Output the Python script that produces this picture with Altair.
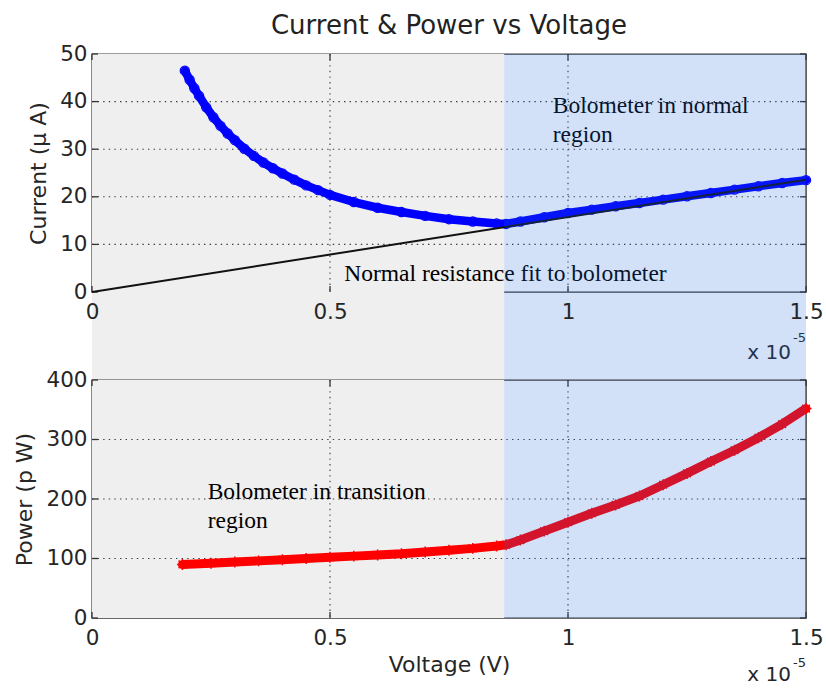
import altair as alt
import pandas as pd

# Voltage is expressed in units of 1e-5 V (the axis multiplier is drawn as text)
current_v = [0.195, 0.205, 0.215, 0.225, 0.24, 0.255, 0.27, 0.285, 0.30, 0.32,
             0.34, 0.36, 0.38, 0.40, 0.425, 0.45, 0.475, 0.50, 0.55, 0.60,
             0.65, 0.70, 0.75, 0.80, 0.85, 0.87, 0.90, 0.95, 1.00, 1.05,
             1.10, 1.15, 1.20, 1.25, 1.30, 1.35, 1.40, 1.45, 1.50]
current_ua = [46.5, 44.6, 42.8, 41.2, 38.8, 36.7, 34.9, 33.3, 31.9, 30.1,
              28.6, 27.2, 26.0, 24.9, 23.6, 22.4, 21.4, 20.4, 18.9, 17.7,
              16.8, 16.0, 15.3, 14.8, 14.4, 14.3, 14.8, 15.7, 16.6, 17.3,
              18.0, 18.7, 19.4, 20.1, 20.8, 21.5, 22.2, 22.9, 23.5]

power_v = [0.19, 0.25, 0.30, 0.35, 0.40, 0.45, 0.50, 0.55, 0.60, 0.65,
           0.70, 0.75, 0.80, 0.85, 0.87, 0.90, 0.95, 1.00, 1.05, 1.10,
           1.15, 1.20, 1.25, 1.30, 1.35, 1.40, 1.45, 1.50]
power_pw = [90, 92, 94, 96, 98, 100, 102, 104, 106, 108,
            111, 114, 117, 121, 123, 131, 146, 161, 176, 190,
            205, 224, 243, 263, 282, 303, 326, 352]

# Normal-resistance fit through the origin
fit_v = [0.0, 1.5]
fit_ua = [0.0, 23.6]

normal_onset = 0.866  # start of the normal-state region

x_ticks = [0, 0.5, 1.0, 1.5]
current_ticks = [0, 10, 20, 30, 40, 50]
power_ticks = [0, 100, 200, 300, 400]

title_text = "Current & Power vs Voltage"
current_title = "Current (\u00b5 A)"
power_title = "Power (p W)"
voltage_title = "Voltage (V)"
note_normal = ["Bolometer in normal", "region"]
note_fit = "Normal resistance fit to bolometer"
note_transition = ["Bolometer in transition", "region"]

W, H, GAP = 714, 238, 88
FONT = "DejaVu Sans"
SERIF = "Liberation Serif"
GRAY_BG = "#efefef"
TINT = "#1e69dc"
TINT_OPACITY = 0.2
GRID_COLOR = "#3a3a3a"
TEXT_COLOR = "#262626"
TICK_LEN = 6

XSCALE = alt.Scale(domain=[0, 1.5], nice=False, zero=False)
one_row = pd.DataFrame({"k": [0]})


def x_axis(title):
    return alt.Axis(values=x_ticks, format="~g", title=title, labelFlush=False,
                    labelOverlap=False, grid=False, ticks=False, domain=False,
                    zindex=1, labelPadding=9, titlePadding=6)


def y_axis(ticks, title):
    return alt.Axis(values=ticks, format="d", title=title, grid=False,
                    ticks=False, domain=False, zindex=1, labelPadding=5,
                    titlePadding=9, labelFlush=False, labelOverlap=False)


def build_panel(ydomain, yticks, ytitle, xtitle, back_height, content, tint_last, extras):
    """One panel: backdrop, dotted grid, inward ticks, data layers and tint."""
    ys = alt.Scale(domain=ydomain, nice=False, zero=False)
    XA = x_axis(xtitle)
    YA = y_axis(yticks, ytitle)

    def X(field):
        return alt.X(field, scale=XSCALE, axis=XA)

    def Y(field):
        return alt.Y(field, scale=ys, axis=YA)

    def XD(v):
        return alt.datum(v, scale=XSCALE, axis=XA)

    def YD(v):
        return alt.datum(v, scale=ys, axis=YA)

    backdrop = alt.Chart(one_row).mark_rect(color=GRAY_BG).encode(
        x=XD(0), x2=alt.datum(normal_onset),
        y=alt.value(0), y2=alt.value(back_height),
    )
    inner_y = pd.DataFrame({"t": yticks[1:-1]})
    inner_x = pd.DataFrame({"t": x_ticks[1:-1]})
    all_y = pd.DataFrame({"t": yticks})
    all_x = pd.DataFrame({"t": x_ticks})
    dots = dict(color=GRID_COLOR, strokeDash=[1.4, 4.2], strokeWidth=1.1)
    hgrid = alt.Chart(inner_y).mark_rule(**dots).encode(
        y=Y("t:Q"), x=alt.value(0), x2=alt.value(W))
    vgrid = alt.Chart(inner_x).mark_rule(**dots).encode(
        x=X("t:Q"), y=alt.value(0), y2=alt.value(H))
    tick = dict(color="#333333", strokeWidth=1.3)
    lt = alt.Chart(all_y).mark_rule(**tick).encode(
        y=Y("t:Q"), x=alt.value(0), x2=alt.value(TICK_LEN))
    rt = alt.Chart(all_y).mark_rule(**tick).encode(
        y=Y("t:Q"), x=alt.value(W - TICK_LEN), x2=alt.value(W))
    bt = alt.Chart(all_x).mark_rule(**tick).encode(
        x=X("t:Q"), y=alt.value(H - TICK_LEN), y2=alt.value(H))
    tt = alt.Chart(all_x).mark_rule(**tick).encode(
        x=X("t:Q"), y=alt.value(0), y2=alt.value(TICK_LEN))

    tint = alt.Chart(one_row).mark_rect(color=TINT, opacity=TINT_OPACITY).encode(
        x=XD(normal_onset), x2=alt.datum(1.5),
        y=alt.value(0), y2=alt.value(back_height),
    )
    layers = [backdrop, hgrid, vgrid, lt, rt, bt, tt]
    layers += content(X, Y, XD, YD)
    if tint_last:
        layers += extras + [tint]
    else:
        layers += [tint] + extras
    return layers


def multiplier(base_dy, sup_dy):
    base = alt.Chart(one_row).mark_text(
        text="x 10", font=FONT, fontSize=20, color=TEXT_COLOR,
        align="right", baseline="alphabetic").encode(
        x=alt.value(W - 15), y=alt.value(H + base_dy))
    sup = alt.Chart(one_row).mark_text(
        text="-5", font=FONT, fontSize=13, color=TEXT_COLOR,
        align="right", baseline="alphabetic").encode(
        x=alt.value(W), y=alt.value(H + sup_dy))
    return [base, sup]


# ---------- top panel: current ----------
cur_df = pd.DataFrame({"v": current_v, "i": current_ua})
fit_df = pd.DataFrame({"v": fit_v, "i": fit_ua})


def current_content(X, Y, XD, YD):
    band = alt.Chart(cur_df).mark_line(
        color="#0000ff", strokeWidth=8.5, strokeCap="round", strokeJoin="round"
    ).encode(x=X("v:Q"), y=Y("i:Q"))
    pts = alt.Chart(cur_df).mark_point(
        shape="circle", filled=False, color="#0000ff", size=85, strokeWidth=1.2,
        opacity=1).encode(x=X("v:Q"), y=Y("i:Q"))
    fit = alt.Chart(fit_df).mark_line(color="#111111", strokeWidth=2).encode(
        x=X("v:Q"), y=Y("i:Q"))
    t1 = alt.Chart(one_row).mark_text(
        text=note_normal, font=SERIF, fontSize=23.5, color="#000000",
        align="left", baseline="alphabetic", lineHeight=28.5).encode(
        x=XD(0.968), y=YD(37.6))
    t2 = alt.Chart(one_row).mark_text(
        text=note_fit, font=SERIF, fontSize=23.5, color="#000000",
        align="left", baseline="alphabetic").encode(
        x=XD(0.530), y=YD(2.3))
    heading = alt.Chart(one_row).mark_text(
        text=title_text, font=FONT, fontSize=26, color="#222222",
        align="center", baseline="alphabetic").encode(
        x=alt.value(W / 2), y=alt.value(-20))
    return [band, pts, fit, t1, t2, heading]


top = alt.layer(
    *build_panel([0, 50], current_ticks, current_title, None, H + GAP,
                 current_content, True, multiplier(67, 50))
).properties(width=W, height=H)

# ---------- bottom panel: power ----------
pow_df = pd.DataFrame({"v": power_v, "p": power_pw})
star = "M0,-1L0,1M-1,0L1,0M-0.7,-0.7L0.7,0.7M-0.7,0.7L0.7,-0.7"


def power_content(X, Y, XD, YD):
    band = alt.Chart(pow_df).mark_line(
        color="#ff0000", strokeWidth=9, strokeCap="round", strokeJoin="round"
    ).encode(x=X("v:Q"), y=Y("p:Q"))
    pts = alt.Chart(pow_df).mark_point(
        shape=star, filled=False, color="#ff0000", size=120, strokeWidth=1.5,
        opacity=1).encode(x=X("v:Q"), y=Y("p:Q"))
    t = alt.Chart(one_row).mark_text(
        text=note_transition, font=SERIF, fontSize=23.5, color="#000000",
        align="left", baseline="alphabetic", lineHeight=29).encode(
        x=XD(0.243), y=YD(200))
    return [band, pts, t]


bottom = alt.layer(
    *build_panel([0, 400], power_ticks, power_title, voltage_title, H,
                 power_content, False, multiplier(63, 49))
).properties(width=W, height=H)

chart = alt.vconcat(top, bottom, spacing=GAP, bounds="flush").configure_view(
    stroke="#3a3a3a", strokeWidth=1.4
).configure_axis(
    labelFont=FONT, labelFontSize=21.5, labelColor=TEXT_COLOR,
    titleFont=FONT, titleFontSize=22, titleColor=TEXT_COLOR,
    titleFontWeight="normal",
).properties(
    padding={"left": 13, "top": 12, "right": 0, "bottom": 0},
    background="white",
)

chart.save("out.html", embed_options={"renderer": "svg", "actions": False})
